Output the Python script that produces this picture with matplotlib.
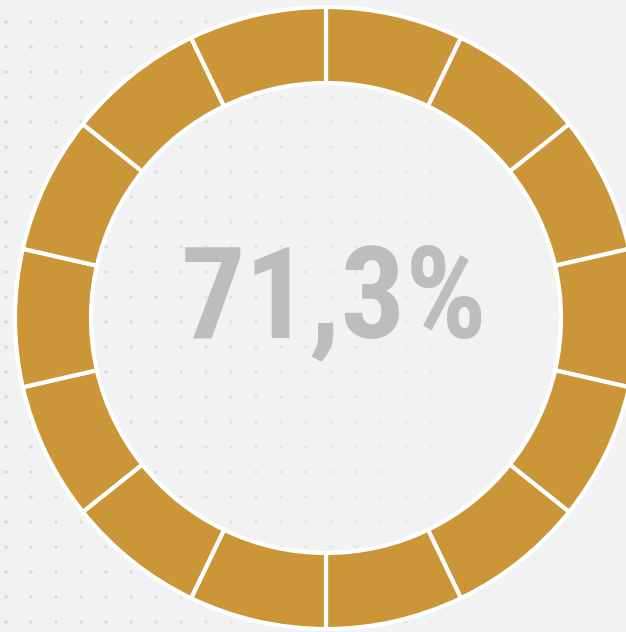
import numpy as np
import matplotlib.pyplot as plt

# 14 segmentos iguales del anillo
segmentos = [1] * 14
valor_texto = "71,3%"

color_anillo = '#CA9637'
color_fondo = '#F2F2F2'
color_texto = '#BDBDBD'

fig = plt.figure(figsize=(6.26, 6.32), dpi=100)
fig.patch.set_facecolor(color_fondo)
ax = fig.add_axes([0, 0, 1, 1])
ax.set_facecolor(color_fondo)

# trama de puntos tenues del fondo
xs, ys = np.meshgrid(np.arange(6, 626, 25), np.arange(10, 632, 25))
alfa = np.clip(1 - xs / 560.0, 0, 1) * 0.65
cols = np.zeros((xs.size, 4))
cols[:, :3] = 0.78
cols[:, 3] = alfa.ravel()
ax.scatter(xs.ravel(), ys.ravel(), s=6, c=cols, linewidths=0, zorder=0)

ax.pie(segmentos, radius=311, center=(326, 314), startangle=90, counterclock=False,
       colors=[color_anillo] * len(segmentos),
       wedgeprops=dict(width=76, edgecolor='white', linewidth=3), frame=True)

ax.text(334, 295, valor_texto, ha='center', va='baseline', fontsize=92,
        fontweight='bold', fontstretch='condensed', color=color_texto,
        family=['Roboto Condensed', 'DejaVu Sans'])

ax.set_xlim(0, 626)
ax.set_ylim(0, 632)
ax.set_aspect('equal')
ax.axis('off')

fig.savefig('out.png', dpi=100, facecolor=color_fondo)
